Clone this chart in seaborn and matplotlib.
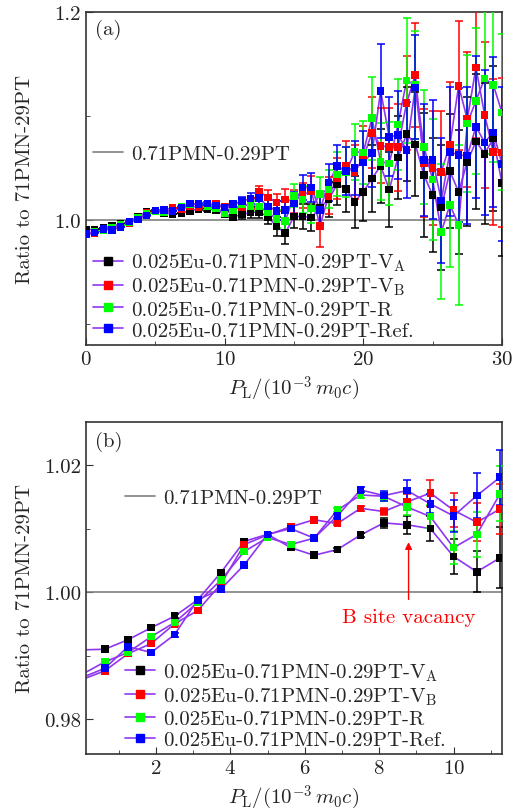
import numpy as np
import pandas as pd
import matplotlib
matplotlib.use("Agg")
import matplotlib.pyplot as plt
import seaborn as sns
from matplotlib.lines import Line2D
from matplotlib.ticker import MultipleLocator, FormatStrFormatter

# ---------------- data ----------------
P_L = [0.0, 0.625, 1.25, 1.875, 2.5, 3.125, 3.75, 4.375, 5.0, 5.625,
       6.25, 6.875, 7.5, 8.125, 8.75, 9.375, 10.0, 10.625, 11.25, 11.875,
       12.5, 13.125, 13.75, 14.375, 15.0, 15.625, 16.25, 16.875, 17.5, 18.125,
       18.75, 19.375, 20.0, 20.625, 21.25, 21.875, 22.5, 23.125, 23.75, 24.375,
       25.0, 25.625, 26.25, 26.875, 27.5, 28.125, 28.75, 29.375, 30.0]

ratio_VA = [0.9909, 0.9910, 0.9925, 0.9944, 0.9962, 0.9988, 1.0031, 1.0080, 1.0091, 1.0070,
            1.0058, 1.0067, 1.0090, 1.0109, 1.0106, 1.0100, 1.0056, 1.0032, 1.0054, 1.0074,
            1.0080, 1.0030, 0.9939, 0.9875, 1.0035, 1.0035, 1.0026, 1.0120, 1.0200, 1.0346,
            1.0300, 1.0176, 1.0272, 1.0400, 1.0520, 1.0295, 1.0600, 1.0827, 1.0728, 1.0433,
            1.0240, 1.0120, 1.0470, 1.0270, 1.0560, 1.0756, 1.0638, 1.0785, 1.0356]
ratio_VB = [0.9862, 0.9876, 0.9903, 0.9919, 0.9950, 0.9971, 1.0013, 1.0075, 1.0090, 1.0103,
            1.0114, 1.0108, 1.0132, 1.0127, 1.0142, 1.0156, 1.0129, 1.0110, 1.0131, 1.0160,
            1.0272, 1.0218, 1.0170, 1.0200, 1.0180, 1.0240, 1.0280, 0.9946, 1.0234, 1.0400,
            1.0520, 1.0460, 1.0600, 1.0840, 1.0715, 1.0700, 1.0700, 1.1125, 1.1397, 1.0550,
            1.0500, 1.0465, 1.0724, 1.1290, 1.0970, 1.1465, 1.1013, 1.0657, 1.0650]
ratio_R = [0.9870, 0.9890, 0.9905, 0.9930, 0.9952, 0.9984, 1.0019, 1.0064, 1.0086, 1.0075,
           1.0085, 1.0129, 1.0153, 1.0151, 1.0134, 1.0119, 1.0070, 1.0091, 1.0155, 1.0138,
           1.0130, 1.0074, 1.0010, 0.9994, 1.0234, 1.0200, 1.0110, 1.0250, 1.0300, 1.0440,
           1.0460, 1.0657, 1.0650, 1.0980, 1.0560, 1.0545, 1.0917, 1.1340, 1.1300, 1.0705,
           1.0390, 0.9888, 1.0147, 0.9955, 1.0930, 1.1147, 1.1360, 1.1300, 1.1035]
ratio_Ref = [0.9865, 0.9880, 0.9914, 0.9905, 0.9933, 0.9988, 1.0005, 1.0043, 1.0091, 1.0100,
             1.0085, 1.0120, 1.0161, 1.0152, 1.0160, 1.0139, 1.0120, 1.0152, 1.0181, 1.0209,
             1.0210, 1.0132, 1.0090, 1.0096, 1.0160, 1.0314, 1.0314, 1.0096, 1.0360, 1.0520,
             1.0470, 1.0500, 1.0554, 1.0644, 1.1240, 1.0800, 1.0817, 1.0676, 1.1276, 1.0580,
             1.0580, 1.0190, 1.0657, 1.0625, 1.0620, 1.0897, 1.0747, 1.0843, 1.0540]

err_VA = [0.0004, 0.0004, 0.0004, 0.0004, 0.0003, 0.0003, 0.0003, 0.0003, 0.0002, 0.0002,
          0.0002, 0.0003, 0.0003, 0.0008, 0.0014, 0.0020, 0.0028, 0.0032, 0.0048, 0.005,
          0.006, 0.007, 0.009, 0.010, 0.011, 0.012, 0.013, 0.015, 0.017, 0.020,
          0.022, 0.025, 0.028, 0.032, 0.036, 0.036, 0.040, 0.045, 0.050, 0.060,
          0.055, 0.060, 0.055, 0.060, 0.062, 0.065, 0.068, 0.070, 0.070]
err_VB = [0.0004, 0.0004, 0.0004, 0.0003, 0.0003, 0.0003, 0.0003, 0.0003, 0.0002, 0.0002,
          0.0002, 0.0003, 0.0004, 0.0006, 0.0012, 0.0021, 0.0027, 0.0030, 0.0040, 0.005,
          0.006, 0.007, 0.008, 0.010, 0.011, 0.012, 0.014, 0.020, 0.018, 0.020,
          0.024, 0.026, 0.030, 0.034, 0.036, 0.038, 0.042, 0.045, 0.050, 0.052,
          0.055, 0.058, 0.060, 0.062, 0.065, 0.068, 0.070, 0.070, 0.072]
err_R = [0.0004, 0.0004, 0.0004, 0.0004, 0.0003, 0.0003, 0.0003, 0.0003, 0.0002, 0.0002,
         0.0002, 0.0003, 0.0004, 0.0007, 0.0012, 0.0018, 0.0026, 0.0035, 0.0043, 0.005,
         0.006, 0.007, 0.009, 0.010, 0.011, 0.013, 0.014, 0.016, 0.018, 0.021,
         0.024, 0.027, 0.030, 0.040, 0.037, 0.040, 0.044, 0.060, 0.052, 0.055,
         0.058, 0.065, 0.060, 0.077, 0.066, 0.070, 0.072, 0.074, 0.075]
err_Ref = [0.0004, 0.0004, 0.0004, 0.0004, 0.0003, 0.0003, 0.0003, 0.0003, 0.0002, 0.0002,
           0.0002, 0.0003, 0.0004, 0.0008, 0.0016, 0.0015, 0.0025, 0.0035, 0.0043, 0.005,
           0.006, 0.007, 0.009, 0.010, 0.011, 0.012, 0.014, 0.016, 0.018, 0.020,
           0.023, 0.026, 0.030, 0.033, 0.045, 0.038, 0.042, 0.046, 0.050, 0.054,
           0.057, 0.060, 0.062, 0.064, 0.066, 0.068, 0.070, 0.072, 0.074]

labels = [r"0.025Eu-0.71PMN-0.29PT-V$_{\rm A}$",
          r"0.025Eu-0.71PMN-0.29PT-V$_{\rm B}$",
          r"0.025Eu-0.71PMN-0.29PT-R",
          r"0.025Eu-0.71PMN-0.29PT-Ref."]
colors = ["#000000", "#FF0000", "#00FF00", "#0000FF"]
purple = "#9035F0"
ref_label = "0.71PMN-0.29PT"

values = [ratio_VA, ratio_VB, ratio_R, ratio_Ref]
errors = [err_VA, err_VB, err_R, err_Ref]

df = pd.concat([pd.DataFrame({"P": P_L, "ratio": v, "err": e, "sample": lab})
                for v, e, lab in zip(values, errors, labels)], ignore_index=True)

# ---------------- style ----------------
sns.set_style("ticks")
plt.rcParams.update({
    "font.family": ["cmr10", "DejaVu Serif"],
    "mathtext.fontset": "cm",
    "axes.formatter.use_mathtext": True,
    "font.size": 15,
    "axes.edgecolor": "#333333",
    "axes.linewidth": 1.2,
    "xtick.direction": "in",
    "ytick.direction": "in",
    "xtick.major.size": 5,
    "ytick.major.size": 5,
    "xtick.minor.size": 3,
    "ytick.minor.size": 3,
    "xtick.color": "#333333",
    "ytick.color": "#333333",
    "xtick.labelcolor": "#222222",
    "ytick.labelcolor": "#222222",
    "xtick.labelsize": 15,
    "ytick.labelsize": 15,
})

fig = plt.figure(figsize=(5.17, 8.12), dpi=100)
ax_a = fig.add_axes([0.1663, 0.5739, 0.8046, 0.4101])
ax_b = fig.add_axes([0.1663, 0.0702, 0.8046, 0.4089])


def draw(ax):
    ax.axhline(1.0, color="#808080", lw=1.2, zorder=1)
    sns.lineplot(data=df, x="P", y="ratio", hue="sample", palette=[purple] * 4,
                 estimator=None, sort=False, lw=1.2, legend=False, ax=ax, zorder=2)
    for lab, c in zip(labels, colors):
        sub = df[df["sample"] == lab]
        ax.errorbar(sub["P"], sub["ratio"], yerr=sub["err"], fmt="none",
                    ecolor=c, elinewidth=1.1, capsize=2.6, capthick=1.1, zorder=3)
    sns.scatterplot(data=df, x="P", y="ratio", hue="sample", palette=colors,
                    marker="s", s=30, linewidth=0, legend=False, ax=ax, zorder=4)
    ax.set_ylabel("Ratio to 71PMN-29PT")
    ax.set_xlabel(r"$P_{\rm L}/(10^{-3}\,m_0c)$")
    ax.yaxis.set_label_coords(-0.125, 0.5)
    ax.xaxis.set_label_coords(0.5, -0.085)

    ref_handle = [Line2D([], [], color="#808080", lw=1.2)]
    handles = [Line2D([], [], color=purple, lw=1.2, marker="s", markersize=6,
                      markerfacecolor=c, markeredgecolor=c) for c in colors]
    return ref_handle, handles


# ---------------- panel (a) ----------------
rh, hs = draw(ax_a)
ax_a.set_xlim(0, 30)
ax_a.set_ylim(0.88, 1.2)
ax_a.xaxis.set_major_locator(MultipleLocator(10))
ax_a.xaxis.set_minor_locator(MultipleLocator(5))
ax_a.yaxis.set_major_locator(MultipleLocator(0.2))
ax_a.yaxis.set_minor_locator(MultipleLocator(0.1))
ax_a.yaxis.set_major_formatter(FormatStrFormatter("%.1f"))
ax_a.text(0.022, 0.949, "(a)", transform=ax_a.transAxes, fontsize=15, va="center", ha="left")
leg1 = ax_a.legend(rh, [ref_label], loc="center left", bbox_to_anchor=(0.017, 0.574),
                   frameon=False, borderpad=0, borderaxespad=0, handlelength=1.44,
                   handletextpad=0.38, fontsize=15)
ax_a.add_artist(leg1)
ax_a.legend(hs, labels, loc="center left", bbox_to_anchor=(0.017, 0.148),
            frameon=False, borderpad=0, borderaxespad=0, handlelength=1.44,
            handletextpad=0.38, labelspacing=0.12, fontsize=15)

# ---------------- panel (b) ----------------
rh, hs = draw(ax_b)
ax_b.set_xlim(0.12, 11.3)
ax_b.set_ylim(0.9745, 1.0268)
ax_b.xaxis.set_major_locator(MultipleLocator(2))
ax_b.xaxis.set_minor_locator(MultipleLocator(1))
ax_b.yaxis.set_major_locator(MultipleLocator(0.02))
ax_b.yaxis.set_minor_locator(MultipleLocator(0.01))
ax_b.yaxis.set_major_formatter(FormatStrFormatter("%.2f"))
ax_b.text(0.022, 0.944, "(b)", transform=ax_b.transAxes, fontsize=15, va="center", ha="left")
ax_b.annotate("", xy=(8.79, 1.0083), xytext=(8.79, 0.9984),
              arrowprops=dict(arrowstyle="-|>", color="red", lw=1.0, mutation_scale=10),
              zorder=5)
ax_b.text(8.79, 0.9961, "B site vacancy", color="red", fontsize=15, ha="center", va="center")
leg1 = ax_b.legend(rh, [ref_label], loc="center left", bbox_to_anchor=(0.094, 0.771),
                   frameon=False, borderpad=0, borderaxespad=0, handlelength=1.44,
                   handletextpad=0.38, fontsize=15)
ax_b.add_artist(leg1)
ax_b.legend(hs, labels, loc="center left", bbox_to_anchor=(0.094, 0.147),
            frameon=False, borderpad=0, borderaxespad=0, handlelength=1.44,
            handletextpad=0.38, labelspacing=0.12, fontsize=15)

fig.savefig("out.png", dpi=100)
